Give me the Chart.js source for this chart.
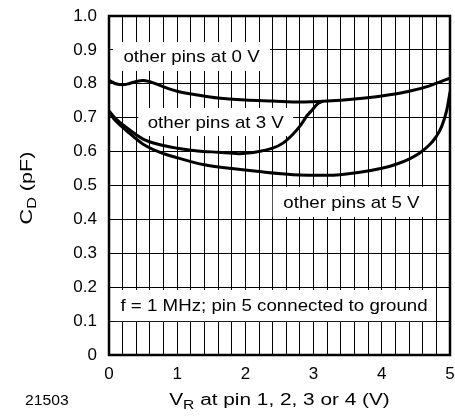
<!DOCTYPE html>
<html><head><meta charset="utf-8">
<script src="https://cdn.jsdelivr.net/npm/chart.js@4/dist/chart.umd.min.js"></script>
<style>html,body{margin:0;padding:0;background:#fff;}canvas{display:block;}</style>
</head><body>
<canvas id="c" width="455" height="417" style="width:455px;height:417px"></canvas>
<script>
// ---- data (V_R in volts, C_D in pF) ----
const vr0 = [0, 0.1, 0.2, 0.3, 0.4, 0.5, 0.6, 0.8, 1.0, 1.3, 1.6, 2.0, 2.4, 2.8, 3.2, 3.6, 4.0, 4.4, 4.7, 5.0];
const cd0 = [0.810, 0.800, 0.797, 0.801, 0.807, 0.810, 0.806, 0.791, 0.778, 0.767, 0.758, 0.752, 0.749, 0.746, 0.749, 0.755, 0.764, 0.778, 0.794, 0.817];
const vr3 = [0, 0.1, 0.25, 0.5, 0.75, 1.0, 1.3, 1.6, 1.9, 2.2, 2.4, 2.55, 2.7, 2.8, 2.9, 2.98, 3.06, 3.12];
const cd3 = [0.720, 0.697, 0.672, 0.637, 0.620, 0.610, 0.602, 0.598, 0.594, 0.600, 0.610, 0.625, 0.652, 0.675, 0.705, 0.723, 0.741, 0.747];
const vr5 = [0, 0.1, 0.25, 0.5, 0.75, 1.0, 1.4, 1.8, 2.2, 2.7, 3.2, 3.7, 4.0, 4.2, 4.4, 4.55, 4.7, 4.8, 4.88, 4.95, 5.0];
const cd5 = [0.716, 0.690, 0.663, 0.622, 0.598, 0.582, 0.561, 0.550, 0.541, 0.532, 0.530, 0.540, 0.551, 0.562, 0.578, 0.595, 0.620, 0.645, 0.675, 0.720, 0.775];
const xTickLabels = ['0', '1', '2', '3', '4', '5'];
const yTickLabels = ['0', '0.1', '0.2', '0.3', '0.4', '0.5', '0.6', '0.7', '0.8', '0.9', '1.0'];
const curveNames = ['other pins at 0 V', 'other pins at 3 V', 'other pins at 5 V'];
const noteText = 'f = 1 MHz; pin 5 connected to ground';
const xTitle = ['V', 'R', ' at pin 1, 2, 3 or 4 (V)'];
const yTitle = ['C', 'D', ' (pF)'];
const figId = '21503';

// label boxes, anchored in data coordinates
const boxes = [
  {text: curveNames[0], x0: 0.06, x1: 2.36, y0: 0.838, y1: 0.923},
  {text: curveNames[1], x0: 0.43, x1: 2.70, y0: 0.646, y1: 0.729},
  {text: curveNames[2], x0: 2.40, x1: 4.71, y0: 0.407, y1: 0.496},
  {text: noteText,      x0: 0.06, x1: 4.78, y0: 0.100, y1: 0.192}
];

const pts = (xs, ys) => xs.map((x, i) => ({x, y: ys[i]}));
const FONT = '"Liberation Sans", Arial, Helvetica, sans-serif';

function stretchedText(ctx, parts, cx, baseline, size, sx) {
  ctx.save();
  ctx.font = size + 'px ' + FONT;
  const w0 = ctx.measureText(parts[0]).width;
  const w2 = ctx.measureText(parts[2]).width;
  ctx.font = Math.round(size * 0.72) + 'px ' + FONT;
  const w1 = ctx.measureText(parts[1]).width;
  const total = (w0 + w1 + w2);
  ctx.translate(cx, baseline);
  ctx.scale(sx, 1);
  let x = -total / 2;
  ctx.fillStyle = '#000';
  ctx.textBaseline = 'alphabetic';
  ctx.textAlign = 'left';
  ctx.font = size + 'px ' + FONT;
  ctx.fillText(parts[0], x, 0); x += w0;
  ctx.font = Math.round(size * 0.72) + 'px ' + FONT;
  ctx.fillText(parts[1], x, size * 0.28); x += w1;
  ctx.font = size + 'px ' + FONT;
  ctx.fillText(parts[2], x, 0);
  ctx.restore();
}

const boxPlugin = {
  id: 'boxes',
  beforeDatasetsDraw(chart) {
    const {ctx, scales: {x, y}} = chart;
    ctx.save();
    boxes.forEach(b => {
      const l = x.getPixelForValue(b.x0), r = x.getPixelForValue(b.x1);
      const t = y.getPixelForValue(b.y1), bt = y.getPixelForValue(b.y0);
      ctx.fillStyle = '#fff';
      ctx.fillRect(l, t, r - l, bt - t);
      ctx.save();
      ctx.translate((l + r) / 2, (t + bt) / 2);
      ctx.scale(1.1, 1);
      ctx.fillStyle = '#000';
      ctx.font = '17px ' + FONT;
      ctx.textAlign = 'center';
      ctx.textBaseline = 'middle';
      ctx.fillText(b.text, 0, 1);
      ctx.restore();
    });
    ctx.restore();
  },
  afterDatasetsDraw(chart) {
    const {ctx, chartArea: a} = chart;
    ctx.save();
    ctx.strokeStyle = '#000';
    ctx.lineWidth = 2.5;
    ctx.strokeRect(a.left, a.top, a.right - a.left, a.bottom - a.top);
    ctx.restore();
  },
  afterDraw(chart) {
    const {ctx, chartArea} = chart;
    stretchedText(ctx, xTitle, (chartArea.left + chartArea.right) / 2, 405, 16, 1.3);
    ctx.save();
    ctx.translate(32, 188);
    ctx.rotate(-Math.PI / 2);
    stretchedText(ctx, yTitle, 0, 0, 16, 1.35);
    ctx.restore();
    ctx.save();
    ctx.font = '14px ' + FONT;
    ctx.fillStyle = '#000';
    ctx.textBaseline = 'alphabetic';
    ctx.translate(25, 405);
    ctx.scale(1.12, 1);
    ctx.fillText(figId, 0, 0);
    ctx.restore();
  }
};

const near = (v, t) => Math.abs(v - t) < 1e-6;

new Chart(document.getElementById('c'), {
  type: 'line',
  data: {
    datasets: [
      {label: curveNames[0], data: pts(vr0, cd0)},
      {label: curveNames[1], data: pts(vr3, cd3)},
      {label: curveNames[2], data: pts(vr5, cd5)}
    ].map(d => Object.assign(d, {
      borderColor: '#000', borderWidth: 3, pointRadius: 0, fill: false,
      cubicInterpolationMode: 'monotone', borderCapStyle: 'round', borderJoinStyle: 'round'
    }))
  },
  options: {
    responsive: false,
    animation: false,
    devicePixelRatio: 1,
    layout: {padding: {left: 0, right: 5, top: 16, bottom: 0}},
    plugins: {legend: {display: false}, tooltip: {enabled: false}},
    scales: {
      x: {
        type: 'linear', min: 0, max: 5,
        grid: {color: '#000', lineWidth: 1, drawTicks: false},
        border: {display: true, color: '#000', width: 2},
        ticks: {
          stepSize: 0.2, padding: 9, color: '#000', maxRotation: 0, autoSkip: false,
          font: {family: FONT, size: 17},
          callback: v => {
            const i = xTickLabels.findIndex((s, k) => near(v, k));
            return i >= 0 ? xTickLabels[i] : '';
          }
        },
        afterFit: s => { s.height = 62; s.paddingLeft = 0; s.paddingRight = 0; }
      },
      y: {
        type: 'linear', min: 0, max: 1,
        grid: {color: '#000', lineWidth: 1, drawTicks: false},
        border: {display: true, color: '#000', width: 2},
        ticks: {
          stepSize: 0.1, padding: 12, color: '#000', autoSkip: false,
          font: {family: FONT, size: 17},
          callback: v => {
            const i = yTickLabels.findIndex((s, k) => near(v, k / 10));
            return i >= 0 ? yTickLabels[i] : '';
          }
        },
        afterFit: s => { s.width = 109; s.paddingTop = 0; s.paddingBottom = 0; }
      }
    }
  },
  plugins: [boxPlugin]
});
</script>
</body></html>
